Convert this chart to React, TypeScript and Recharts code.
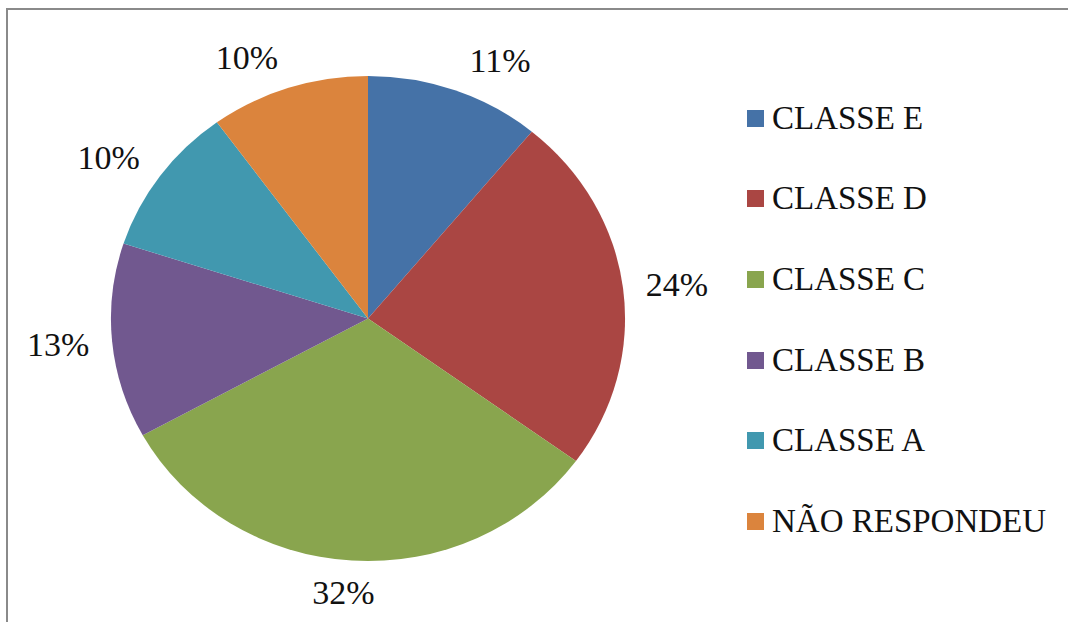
import React from "react";
import { PieChart, Pie, Cell, Legend } from "recharts";

const categories = ["CLASSE E", "CLASSE D", "CLASSE C", "CLASSE B", "CLASSE A", "NÃO RESPONDEU"];
const values = [11, 24, 32, 13, 10, 10];
const colors = ["#4572A7", "#AA4643", "#89A54E", "#71588F", "#4198AF", "#DB843D"];

const data = categories.map((name, i) => ({ name, value: values[i] }));

const CX = 368;
const CY = 318.5;
const RADIUS = 242.5;
const SCALE_X = 1.06;
const FONT = "'Liberation Serif', 'Times New Roman', Times, serif";

const clamp = (v: number) => Math.max(-1, Math.min(1, v));

const renderLabel = (props: any) => {
  const { cx, cy, midAngle, outerRadius, value } = props;
  const rad = (midAngle * Math.PI) / 180;
  const c = Math.cos(rad);
  const s = Math.sin(rad);
  const px = cx + outerRadius * SCALE_X * c;
  const py = cy - outerRadius * s;
  const x = px + 13.8 * c + 40.3 * clamp(3 * c);
  const y = py - 32 * s;
  return (
    <text
      x={x}
      y={y}
      textAnchor="middle"
      dominantBaseline="central"
      fontFamily={FONT}
      fontSize={34}
      fill="#111"
    >
      {`${value}%`}
    </text>
  );
};

const renderLegend = (props: any) => {
  const payload = (props.payload || [])
    .filter((p: any) => p.type !== "none")
    .slice()
    .sort((a: any, b: any) => categories.indexOf(a.value) - categories.indexOf(b.value));
  return (
    <div style={{ fontFamily: FONT }}>
      {payload.map((entry: any, i: number) => (
        <div key={i} style={{ height: 80.6, display: "flex", alignItems: "center" }}>
          <span
            style={{
              display: "inline-block",
              width: 17,
              height: 17,
              background: entry.color,
              marginRight: 8,
              flex: "none",
            }}
          />
          <span style={{ fontSize: 33, color: "#111", lineHeight: "33px", whiteSpace: "nowrap" }}>
            {entry.value}
          </span>
        </div>
      ))}
    </div>
  );
};

export default function App() {
  return (
    <div
      style={{
        position: "absolute",
        left: 0,
        top: 0,
        width: 1068,
        height: 622,
        overflow: "hidden",
        background: "#fff",
      }}
    >
      <style>{`.ellipse-chart .recharts-pie-sector { transform: scaleX(${SCALE_X}); transform-origin: ${CX}px ${CY}px; }`}</style>
      <div className="ellipse-chart" style={{ position: "absolute", left: 0, top: 0 }}>
        <PieChart width={1068} height={622} margin={{ top: 0, right: 0, bottom: 0, left: 0 }}>
          <Pie
            data={data}
            dataKey="value"
            nameKey="name"
            cx={CX}
            cy={CY}
            outerRadius={RADIUS}
            startAngle={90}
            endAngle={-270}
            stroke="none"
            isAnimationActive={false}
            label={renderLabel}
            labelLine={false}
          >
            {data.map((d, i) => (
              <Cell key={d.name} fill={colors[i]} />
            ))}
          </Pie>
          <Legend
            layout="vertical"
            align="right"
            verticalAlign="top"
            content={renderLegend}
            wrapperStyle={{ left: 747, top: 78, width: 320, right: "auto" }}
          />
        </PieChart>
      </div>
      <div
        style={{
          position: "absolute",
          left: 6,
          top: 8,
          width: 1062,
          height: 2,
          background: "#8a8a8a",
          pointerEvents: "none",
        }}
      />
      <div
        style={{
          position: "absolute",
          left: 6,
          top: 8,
          width: 2,
          height: 614,
          background: "#8a8a8a",
          pointerEvents: "none",
        }}
      />
    </div>
  );
}
